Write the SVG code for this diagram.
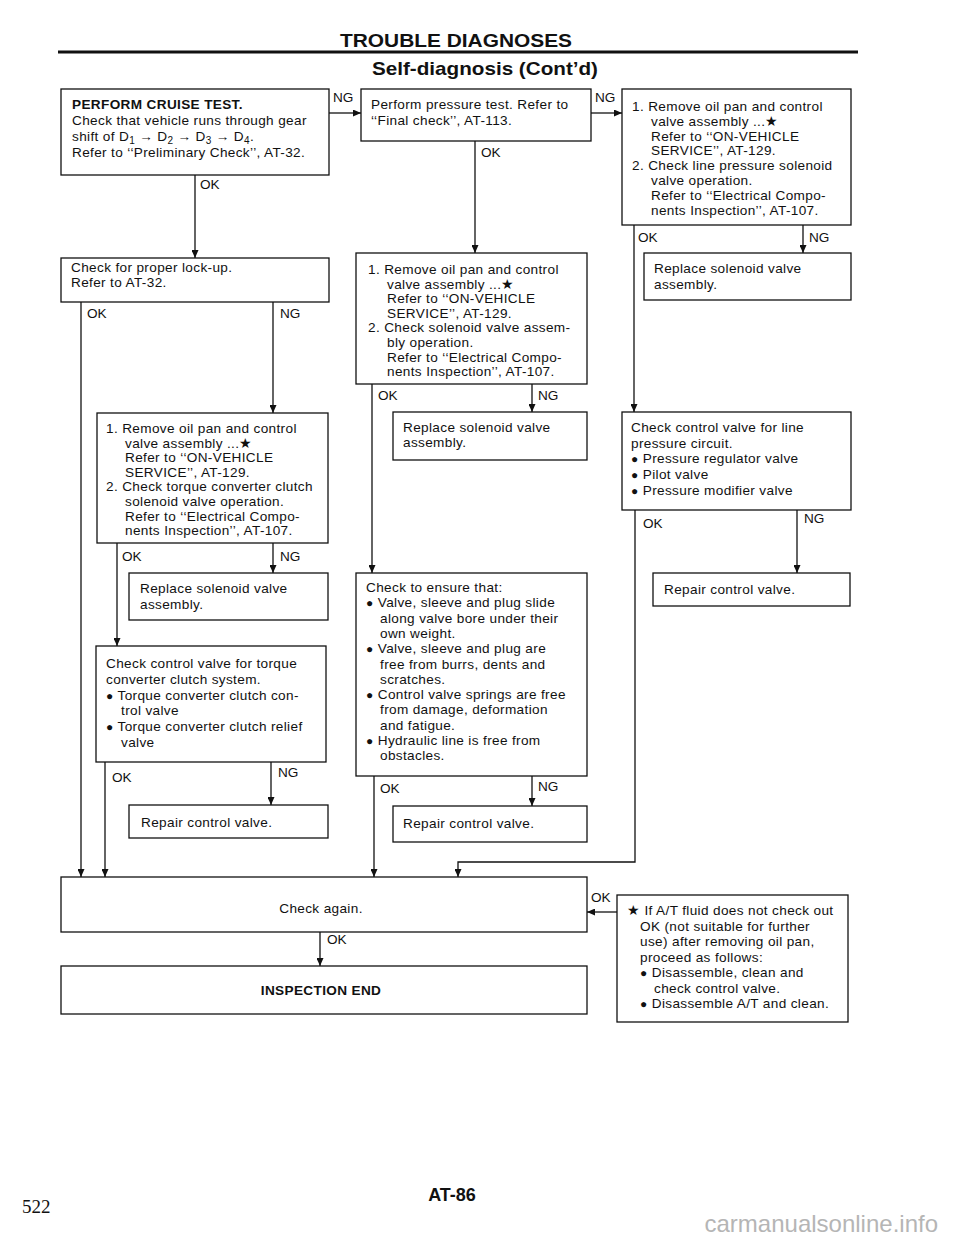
<svg xmlns="http://www.w3.org/2000/svg" width="960" height="1242" viewBox="0 0 960 1242">
<defs>
<style>
.b{fill:#fff;stroke:#111;stroke-width:1.3}
.t{font-family:"Liberation Sans",Arial,sans-serif;font-size:13.6px;letter-spacing:0.35px;fill:#111}
.l{font-family:"Liberation Sans",Arial,sans-serif;font-size:13.6px;fill:#111}
.h{font-family:"Liberation Sans",Arial,sans-serif;font-weight:bold;fill:#111}
.c{fill:none;stroke:#111;stroke-width:1.3}
.s{font-size:10px}
.d{font-size:12px}
</style>
<marker id="ar" markerUnits="userSpaceOnUse" markerWidth="8" markerHeight="7" refX="8" refY="3.5" orient="auto">
<path d="M0,0 L8,3.5 L0,7 z" fill="#111"/>
</marker>
</defs>
<rect width="960" height="1242" fill="#fff"/>
<g id="header">
<text class="h" x="456" y="47" font-size="19" text-anchor="middle" textLength="232" lengthAdjust="spacingAndGlyphs">TROUBLE DIAGNOSES</text>
<rect x="58" y="50.5" width="800" height="3" fill="#111"/>
<text class="h" x="485" y="75" font-size="19" text-anchor="middle" textLength="226" lengthAdjust="spacingAndGlyphs">Self-diagnosis (Cont’d)</text>
</g>
<g id="n_cruise">
<rect class="b" x="61" y="89" width="268" height="86"/>
<text class="t" x="72" y="109"><tspan font-weight="bold">PERFORM CRUISE TEST.</tspan><tspan x="72" dy="16">Check that vehicle runs through gear</tspan><tspan x="72" dy="16">shift of D<tspan class="s" dy="3">1</tspan><tspan dy="-3"> → D</tspan><tspan class="s" dy="3">2</tspan><tspan dy="-3"> → D</tspan><tspan class="s" dy="3">3</tspan><tspan dy="-3"> → D</tspan><tspan class="s" dy="3">4</tspan><tspan dy="-3">.</tspan></tspan><tspan x="72" dy="16">Refer to ‘‘Preliminary Check’’, AT-32.</tspan></text>
</g>
<g id="n_pressure">
<rect class="b" x="361" y="89" width="230" height="52"/>
<text class="t" x="371" y="109">Perform pressure test. Refer to<tspan x="371" dy="16">‘‘Final check’’, AT-113.</tspan></text>
</g>
<g id="n_linesol">
<rect class="b" x="622" y="89" width="229" height="136"/>
<text class="t" x="632" y="111">1. Remove oil pan and control<tspan x="651" dy="14.8">valve assembly ...★</tspan><tspan x="651" dy="14.8">Refer to ‘‘ON-VEHICLE</tspan><tspan x="651" dy="14.8">SERVICE’’, AT-129.</tspan><tspan x="632" dy="14.8">2. Check line pressure solenoid</tspan><tspan x="651" dy="14.8">valve operation.</tspan><tspan x="651" dy="14.8">Refer to ‘‘Electrical Compo-</tspan><tspan x="651" dy="14.8">nents Inspection’’, AT-107.</tspan></text>
</g>
<g id="n_replace_tr">
<rect class="b" x="644" y="253" width="207" height="47"/>
<text class="t" x="654" y="273">Replace solenoid valve<tspan x="654" dy="16">assembly.</tspan></text>
</g>
<g id="n_lockup">
<rect class="b" x="61" y="258" width="268" height="44"/>
<text class="t" x="71" y="272">Check for proper lock-up.<tspan x="71" dy="15">Refer to AT-32.</tspan></text>
</g>
<g id="n_mid_sol">
<rect class="b" x="356" y="253" width="231" height="131"/>
<text class="t" x="368" y="274">1. Remove oil pan and control<tspan x="387" dy="14.6">valve assembly ...★</tspan><tspan x="387" dy="14.6">Refer to ‘‘ON-VEHICLE</tspan><tspan x="387" dy="14.6">SERVICE’’, AT-129.</tspan><tspan x="368" dy="14.6">2. Check solenoid valve assem-</tspan><tspan x="387" dy="14.6">bly operation.</tspan><tspan x="387" dy="14.6">Refer to ‘‘Electrical Compo-</tspan><tspan x="387" dy="14.6">nents Inspection’’, AT-107.</tspan></text>
</g>
<g id="n_replace_mid">
<rect class="b" x="393" y="412" width="194" height="48"/>
<text class="t" x="403" y="432">Replace solenoid valve<tspan x="403" dy="15">assembly.</tspan></text>
</g>
<g id="n_lp_circuit">
<rect class="b" x="622" y="412" width="229" height="98"/>
<text class="t" x="631" y="432">Check control valve for line<tspan x="631" dy="15.7">pressure circuit.</tspan><tspan x="631" dy="15.7"><tspan class="d">●</tspan> Pressure regulator valve</tspan><tspan x="631" dy="15.7"><tspan class="d">●</tspan> Pilot valve</tspan><tspan x="631" dy="15.7"><tspan class="d">●</tspan> Pressure modifier valve</tspan></text>
</g>
<g id="n_repair_tr">
<rect class="b" x="653" y="573" width="197" height="33"/>
<text class="t" x="664" y="594">Repair control valve.</text>
</g>
<g id="n_tcc_sol">
<rect class="b" x="97" y="413" width="231" height="130"/>
<text class="t" x="106" y="433">1. Remove oil pan and control<tspan x="125" dy="14.6">valve assembly ...★</tspan><tspan x="125" dy="14.6">Refer to ‘‘ON-VEHICLE</tspan><tspan x="125" dy="14.6">SERVICE’’, AT-129.</tspan><tspan x="106" dy="14.6">2. Check torque converter clutch</tspan><tspan x="125" dy="14.6">solenoid valve operation.</tspan><tspan x="125" dy="14.6">Refer to ‘‘Electrical Compo-</tspan><tspan x="125" dy="14.6">nents Inspection’’, AT-107.</tspan></text>
</g>
<g id="n_replace_left">
<rect class="b" x="129" y="573" width="199" height="47"/>
<text class="t" x="140" y="593">Replace solenoid valve<tspan x="140" dy="15.5">assembly.</tspan></text>
</g>
<g id="n_tcc_valve">
<rect class="b" x="96" y="646" width="230" height="116"/>
<text class="t" x="106" y="668">Check control valve for torque<tspan x="106" dy="15.8">converter clutch system.</tspan><tspan x="106" dy="15.8"><tspan class="d">●</tspan> Torque converter clutch con-</tspan><tspan x="121" dy="15.8">trol valve</tspan><tspan x="106" dy="15.8"><tspan class="d">●</tspan> Torque converter clutch relief</tspan><tspan x="121" dy="15.8">valve</tspan></text>
</g>
<g id="n_repair_left">
<rect class="b" x="129" y="805" width="199" height="33"/>
<text class="t" x="141" y="827">Repair control valve.</text>
</g>
<g id="n_ensure">
<rect class="b" x="356" y="573" width="231" height="203"/>
<text class="t" x="366" y="592">Check to ensure that:<tspan x="366" dy="15.3"><tspan class="d">●</tspan> Valve, sleeve and plug slide</tspan><tspan x="380" dy="15.3">along valve bore under their</tspan><tspan x="380" dy="15.3">own weight.</tspan><tspan x="366" dy="15.3"><tspan class="d">●</tspan> Valve, sleeve and plug are</tspan><tspan x="380" dy="15.3">free from burrs, dents and</tspan><tspan x="380" dy="15.3">scratches.</tspan><tspan x="366" dy="15.3"><tspan class="d">●</tspan> Control valve springs are free</tspan><tspan x="380" dy="15.3">from damage, deformation</tspan><tspan x="380" dy="15.3">and fatigue.</tspan><tspan x="366" dy="15.3"><tspan class="d">●</tspan> Hydraulic line is free from</tspan><tspan x="380" dy="15.3">obstacles.</tspan></text>
</g>
<g id="n_repair_mid">
<rect class="b" x="393" y="806" width="194" height="36"/>
<text class="t" x="403" y="828">Repair control valve.</text>
</g>
<g id="n_check_again">
<rect class="b" x="61" y="877" width="526" height="55"/>
<text class="t" x="321" y="913" text-anchor="middle">Check again.</text>
</g>
<g id="n_end">
<rect class="b" x="61" y="966" width="526" height="48"/>
<text class="t" x="321" y="995" text-anchor="middle" font-weight="bold">INSPECTION END</text>
</g>
<g id="n_note">
<rect class="b" x="617" y="895" width="231" height="127"/>
<text class="t" x="627" y="915">★  If A/T fluid does not check out<tspan x="640" dy="15.5">OK (not suitable for further</tspan><tspan x="640" dy="15.5">use) after removing oil pan,</tspan><tspan x="640" dy="15.5">proceed as follows:</tspan><tspan x="640" dy="15.5"><tspan class="d">●</tspan> Disassemble, clean and</tspan><tspan x="654" dy="15.5">check control valve.</tspan><tspan x="640" dy="15.5"><tspan class="d">●</tspan> Disassemble A/T and clean.</tspan></text>
</g>
<g id="connectors">
<g class="c" marker-end="url(#ar)">
<line x1="329" y1="113" x2="361" y2="113"/>
<line x1="591" y1="113" x2="622" y2="113"/>
<line x1="195" y1="175" x2="195" y2="258"/>
<line x1="475" y1="141" x2="475" y2="253"/>
<line x1="803" y1="225" x2="803" y2="253"/>
<line x1="634" y1="225" x2="634" y2="412"/>
<line x1="81" y1="302" x2="81" y2="877"/>
<line x1="273" y1="302" x2="273" y2="413"/>
<line x1="117" y1="543" x2="117" y2="646"/>
<line x1="273" y1="543" x2="273" y2="573"/>
<line x1="105" y1="762" x2="105" y2="877"/>
<line x1="271" y1="762" x2="271" y2="805"/>
<line x1="372" y1="384" x2="372" y2="573"/>
<line x1="532" y1="384" x2="532" y2="412"/>
<line x1="374" y1="776" x2="374" y2="877"/>
<line x1="532" y1="776" x2="532" y2="806"/>
<polyline points="635,510 635,862 458,862 458,877"/>
<line x1="797" y1="510" x2="797" y2="573"/>
<line x1="320" y1="932" x2="320" y2="966"/>
<line x1="617" y1="912" x2="587" y2="912"/>
</g>
<text class="l" x="333" y="102">NG</text>
<text class="l" x="595" y="102">NG</text>
<text class="l" x="200" y="189">OK</text>
<text class="l" x="481" y="157">OK</text>
<text class="l" x="638" y="242">OK</text>
<text class="l" x="809" y="242">NG</text>
<text class="l" x="87" y="318">OK</text>
<text class="l" x="280" y="318">NG</text>
<text class="l" x="378" y="400">OK</text>
<text class="l" x="538" y="400">NG</text>
<text class="l" x="122" y="561">OK</text>
<text class="l" x="280" y="561">NG</text>
<text class="l" x="643" y="528">OK</text>
<text class="l" x="804" y="523">NG</text>
<text class="l" x="112" y="782">OK</text>
<text class="l" x="278" y="777">NG</text>
<text class="l" x="380" y="793">OK</text>
<text class="l" x="538" y="791">NG</text>
<text class="l" x="327" y="944">OK</text>
<text class="l" x="591" y="902">OK</text>
</g>
<g id="footer">
<text x="22" y="1213" font-family="'Liberation Serif','Times New Roman',serif" font-size="19" fill="#111">522</text>
<text class="h" x="452" y="1201" font-size="18" text-anchor="middle">AT-86</text>
<text x="938" y="1232" font-family="'Liberation Sans',Arial,sans-serif" font-size="24" fill="#b5b5b5" text-anchor="end">carmanualsonline.info</text>
</g>
</svg>
